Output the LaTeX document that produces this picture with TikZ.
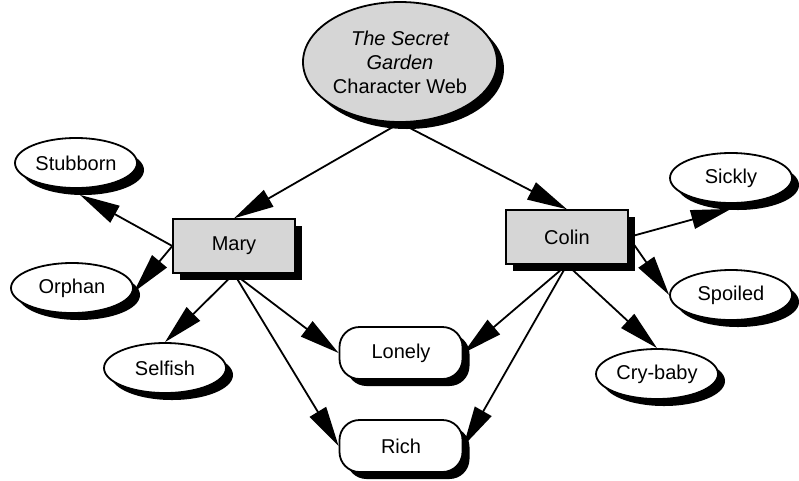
\documentclass[tikz,border=0pt]{standalone}
\usepackage{fontspec}
\setmainfont{Liberation Sans}
\usetikzlibrary{positioning,shapes.geometric,shadows,arrows.meta}
\definecolor{Shade}{HTML}{D6D6D6}
\tikzset{
  web shadow/.style={drop shadow={shadow xshift=7pt,shadow yshift=-7pt,fill=black,opacity=1}},
  web title/.style={ellipse,draw=black,line width=1.8pt,fill=Shade,web shadow,
    minimum width=194pt,minimum height=120pt,inner sep=0pt,align=center,
    font=\fontsize{20}{24}\selectfont},
  web box/.style={rectangle,draw=black,line width=1.4pt,fill=Shade,web shadow,
    minimum width=122pt,minimum height=54pt,inner sep=0pt,
    font=\fontsize{20}{24}\selectfont},
  web trait/.style={ellipse,draw=black,line width=1.8pt,fill=white,web shadow,
    minimum width=122pt,minimum height=50pt,inner sep=0pt,
    font=\fontsize{20}{24}\selectfont},
  web pill/.style={rectangle,rounded corners=20pt,draw=black,line width=1.8pt,
    fill=white,web shadow,minimum width=123pt,minimum height=52pt,inner sep=0pt,
    font=\fontsize{20}{24}\selectfont},
  web arrow/.style={-{Triangle[length=40pt,width=19pt]},line width=1.8pt,draw=black}
}
\begin{document}
\begin{tikzpicture}[x=1pt,y=-1pt]
  \useasboundingbox (0,0) rectangle (799,480);
  % centre and characters
  \node[web title] (title) at (400,62) {\itshape The Secret\\\itshape Garden\\Character Web};
  \node[web box] (mary) at (234,246) {Mary};
  \node[web box] (colin) at (567,237) {Colin};
  % traits
  \node[web trait] (stubborn) at (76,163) {Stubborn};
  \node[web trait] (orphan) at (72,288) {Orphan};
  \node[web trait] (selfish) at (165,368) {Selfish};
  \node[web trait] (sickly) at (731,178) {Sickly};
  \node[web trait] (spoiled) at (731,295) {Spoiled};
  \node[web trait] (crybaby) at (657,374) {Cry-baby};
  \node[web pill] (lonely) at (401,353) {Lonely};
  \node[web pill] (rich) at (401,446) {Rich};
  % links
  \draw[web arrow] (title.south) -- (mary.north);
  \draw[web arrow] (title.south) -- (colin.north);
  \draw[web arrow] (mary.west) -- ([xshift=4pt,yshift=-6pt]stubborn.south);
  \draw[web arrow] (mary.west) -- ([yshift=-4pt]orphan.east);
  \draw[web arrow] (mary.south) -- (selfish.north);
  \draw[web arrow] (mary.south) -- (lonely.west);
  \draw[web arrow] (mary.south) -- (rich.west);
  \draw[web arrow] (colin.east) -- ([yshift=-5pt]sickly.south);
  \draw[web arrow] (colin.east) -- (spoiled.west);
  \draw[web arrow] (colin.south) -- (lonely.east);
  \draw[web arrow] (colin.south) -- (rich.east);
  \draw[web arrow] (colin.south) -- (crybaby.north);
\end{tikzpicture}
\end{document}
